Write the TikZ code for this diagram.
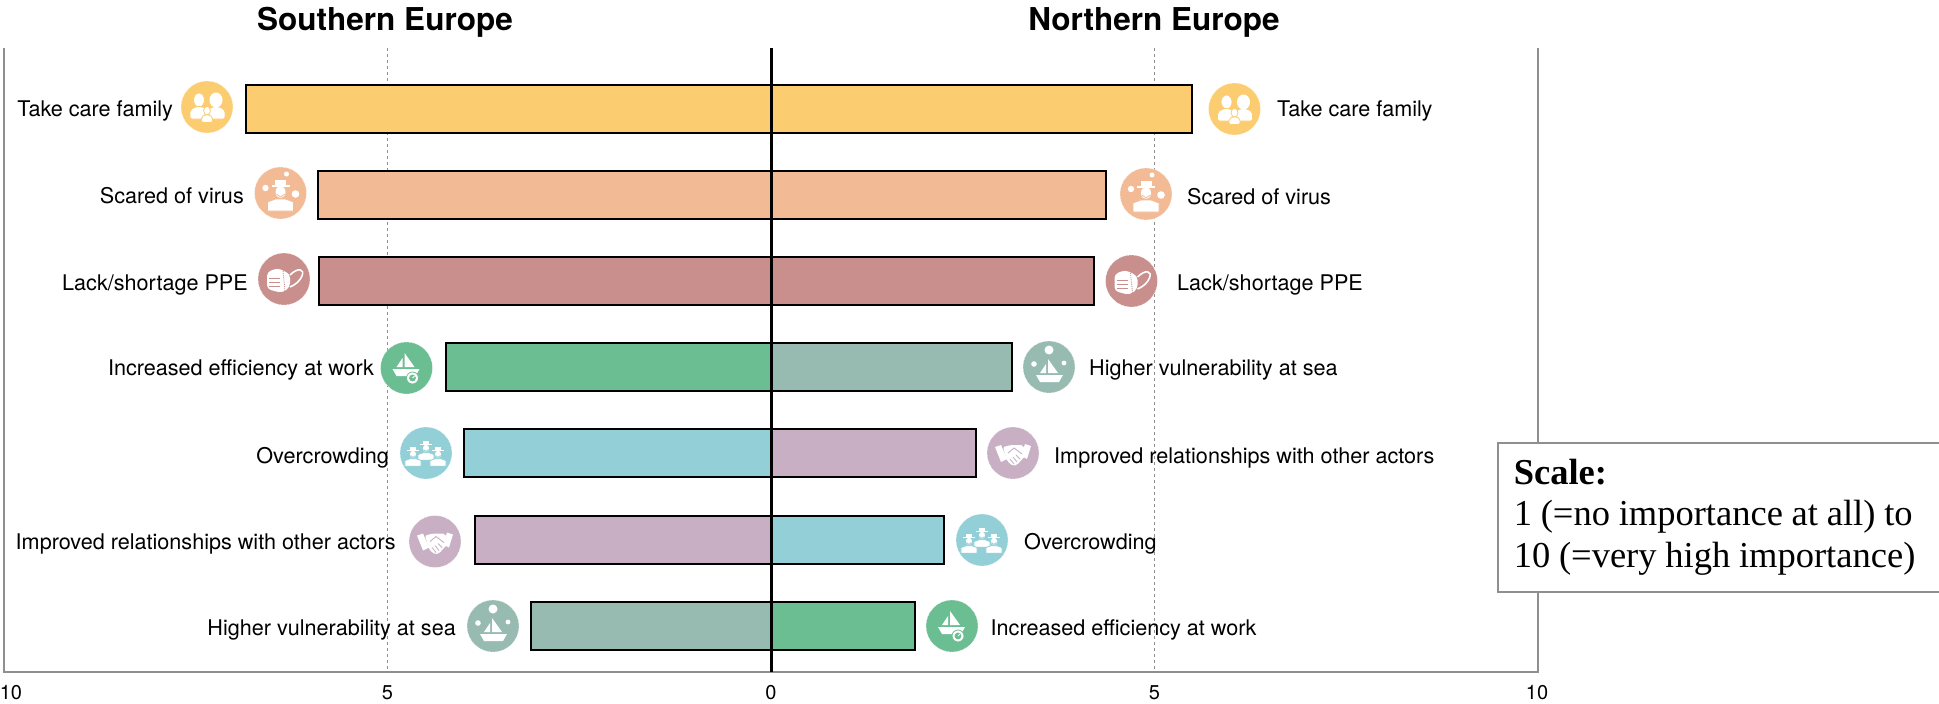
\documentclass[tikz,border=0pt]{standalone}
\usepackage{fontspec}
\setmainfont{TeX Gyre Heros}
\newfontfamily\boxserif{Liberation Serif}
\usetikzlibrary{positioning}

\definecolor{colFamily}{HTML}{FBCD70}
\definecolor{colVirus}{HTML}{F2BB96}
\definecolor{colPPE}{HTML}{C88F8D}
\definecolor{colWork}{HTML}{6BBE92}
\definecolor{colCrowd}{HTML}{93CFD7}
\definecolor{colActors}{HTML}{C8AFC3}
\definecolor{colSea}{HTML}{98BBB1}
\definecolor{colFrame}{HTML}{8F8F8F}

\tikzstyle{regiontitle} = [inner sep=0pt, font=\fontsize{31.5}{34}\selectfont\bfseries]
\tikzstyle{rowlabel} = [inner sep=0pt, font=\fontsize{21.6}{26}\selectfont]
\tikzstyle{ticklabel} = [inner sep=0pt, font=\fontsize{20}{22}\selectfont]
\tikzstyle{scorebar} = [draw=black, line width=2pt, minimum height=48pt, inner sep=0pt, outer sep=0pt]
\tikzstyle{iconcircle} = [circle, minimum size=52pt, inner sep=0pt, draw=white, line width=.5pt, densely dotted]
\tikzstyle{gridline} = [colFrame, line width=1pt, dashed]
\tikzstyle{scalebox} = [draw=colFrame, line width=1.5pt, fill=white, anchor=north west, align=left, text width=424pt, minimum height=149pt, inner xsep=16pt, inner ysep=0pt, font=\fontsize{36.5}{41.5}\selectfont\boxserif]

\tikzset{
	pics/person/.style={code={
		\fill[white,draw=#1,line width=.8pt] (0,-7) ellipse (5.5 and 7);
		\fill[white,draw=#1,line width=.8pt,rounded corners=2pt] (-9,12) -- (-9,3) -- (-3,-.5) -- (3,-.5) -- (9,3) -- (9,12) -- cycle;
	}},
	pics/family/.style={code={
		\pic at (-8,0) {person=colFamily};
		\pic at (9,0) {person=colFamily};
		\fill[white] (9,-7) ellipse (6.5 and 7.5);
		\pic[scale=.62] at (0,8) {person=colFamily};
	}},
	pics/worker/.style={code={
		\fill[white,draw=#1,line width=.8pt] (-13,18) -- (-13,9) -- (-5,6) -- (5,6) -- (13,9) -- (13,18) -- cycle;
		\fill[white] (0,-1) ellipse (5 and 6);
		\draw[#1,line width=.8pt] (-4,1) -- (0,4) -- (4,1);
		\fill[white] (-9,-8.5) rectangle (9,-6);
		\fill[white] (-5.5,-8.5) rectangle (5.5,-13);
	}},
	pics/virusworker/.style={code={
		\pic at (0,0) {worker=colVirus};
		\fill[white] (-15,-5) circle (3.2);
		\fill[white] (6,-19) circle (2.5);
		\fill[white] (15,1) circle (3.8);
	}},
	pics/crowd/.style={code={
		\pic[scale=.62] at (0,-4) {worker=colCrowd};
		\pic[scale=.62] at (-13,2) {worker=colCrowd};
		\pic[scale=.62] at (12,2) {worker=colCrowd};
	}},
	pics/mask/.style={code={
		\draw[white,line width=1.6pt] (6,-4) .. controls (14,-12) and (21,-10) .. (18,-3) .. controls (16,2) and (11,6) .. (6,8);
		\fill[white,rounded corners=4pt] (-17,-7) -- (-6,-11) -- (6,-5) -- (6,8) -- (-2,14) -- (-17,10) -- cycle;
		\draw[colPPE,line width=.9pt] (-15,-1) -- (-4,-1) (-15,3) -- (-4,3) (-15,7) -- (-4,7);
		\draw[colPPE,line width=.9pt,densely dotted] (-1,-8) -- (1,12);
	}},
	pics/boat/.style={code={
		\fill[white] (-13,1) -- (14,1) -- (10,8) -- (-9,8) -- cycle;
		\fill[white] (-1,-15) -- (9,-1) -- (-1,-1) -- cycle;
		\fill[white] (-3,-10) -- (-3,-1) -- (-9,-1) -- cycle;
	}},
	pics/workboat/.style={code={
		\pic at (-1,0) {boat};
		\fill[white,draw=colWork,line width=.8pt] (6,10) circle (6);
		\fill[colWork] (6,10) circle (3.4);
		\draw[white,line width=.9pt] (6,10) -- (8,8);
	}},
	pics/seaboat/.style={code={
		\pic at (0,7) {boat};
		\fill[white] (0,-17) circle (4.5);
		\fill[white] (-15,-3) circle (2.8);
		\fill[white] (15,-4) circle (2.4);
	}},
	pics/handshake/.style={code={
		\fill[white] (-18,-6) -- (-12,-8) -- (-6,6) -- (-12,9) -- cycle;
		\fill[white] (12,-9) -- (18,-7) -- (14,6) -- (8,3) -- cycle;
		\fill[white,rounded corners=2pt] (-10,-6) -- (-2,-8) -- (10,-8) -- (13,2) -- (4,12) -- (0,13) -- (-6,8) -- cycle;
		\draw[colActors,line width=.9pt] (9,1) -- (1,-5) -- (-5,0);
		\draw[colActors,line width=.8pt] (1,11) -- (-3,6) (4,9) -- (0,4) (7,6) -- (3,2);
	}},
}

\begin{document}
\begin{tikzpicture}[x=1pt, y=-1pt]
	\useasboundingbox (0,0) rectangle (1939,704);

	\node[regiontitle, anchor=base] (titleS) at (385,30) {Southern Europe};
	\node[regiontitle, anchor=base] (titleN) at (1154,30) {Northern Europe};

	% axes
	\draw[gridline] (387.5,48) -- (387.5,672);
	\draw[gridline] (1154.5,48) -- (1154.5,672);
	\draw[colFrame, line width=1.5pt] (4,48) -- (4,672) -- (1538,672) -- (1538,48);

	% left bars
	\node[scorebar, fill=colFamily, anchor=east, minimum width=525pt] (barFamS) at (771,109) {};
	\node[scorebar, fill=colVirus, anchor=east, minimum width=453pt] (barVirS) at (771,195) {};
	\node[scorebar, fill=colPPE, anchor=east, minimum width=452pt] (barPpeS) at (771,281) {};
	\node[scorebar, fill=colWork, anchor=east, minimum width=325pt] (barWorkS) at (771,367) {};
	\node[scorebar, fill=colCrowd, anchor=east, minimum width=307pt] (barCrowdS) at (771,453) {};
	\node[scorebar, fill=colActors, anchor=east, minimum width=296pt] (barActS) at (771,540) {};
	\node[scorebar, fill=colSea, anchor=east, minimum width=240pt] (barSeaS) at (771,626) {};

	% right bars
	\node[scorebar, fill=colFamily, anchor=west, minimum width=421pt] (barFamN) at (771,109) {};
	\node[scorebar, fill=colVirus, anchor=west, minimum width=335pt] (barVirN) at (771,195) {};
	\node[scorebar, fill=colPPE, anchor=west, minimum width=323pt] (barPpeN) at (771,281) {};
	\node[scorebar, fill=colSea, anchor=west, minimum width=241pt] (barSeaN) at (771,367) {};
	\node[scorebar, fill=colActors, anchor=west, minimum width=205pt] (barActN) at (771,453) {};
	\node[scorebar, fill=colCrowd, anchor=west, minimum width=173pt] (barCrowdN) at (771,540) {};
	\node[scorebar, fill=colWork, anchor=west, minimum width=144pt] (barWorkN) at (771,626) {};

	\draw[black, line width=3pt] (771.5,48) -- (771.5,672);

	% left icons
	\node[iconcircle, fill=colFamily] (icoFamS) at (207,107) {};
	\node[iconcircle, fill=colVirus] (icoVirS) at (280.5,193) {};
	\node[iconcircle, fill=colPPE] (icoPpeS) at (284,279) {};
	\node[iconcircle, fill=colWork] (icoWorkS) at (406.5,368) {};
	\node[iconcircle, fill=colCrowd] (icoCrowdS) at (426,453) {};
	\node[iconcircle, fill=colActors] (icoActS) at (435,541.5) {};
	\node[iconcircle, fill=colSea] (icoSeaS) at (493,626) {};
	\pic at (icoFamS) {family};
	\pic at (icoVirS) {virusworker};
	\pic at (icoPpeS) {mask};
	\pic at (icoWorkS) {workboat};
	\pic at (icoCrowdS) {crowd};
	\pic at (icoActS) {handshake};
	\pic at (icoSeaS) {seaboat};

	% right icons
	\node[iconcircle, fill=colFamily] (icoFamN) at (1234.5,109) {};
	\node[iconcircle, fill=colVirus] (icoVirN) at (1146,194) {};
	\node[iconcircle, fill=colPPE] (icoPpeN) at (1131.5,281) {};
	\node[iconcircle, fill=colSea] (icoSeaN) at (1049,367) {};
	\node[iconcircle, fill=colActors] (icoActN) at (1013,453) {};
	\node[iconcircle, fill=colCrowd] (icoCrowdN) at (982,540) {};
	\node[iconcircle, fill=colWork] (icoWorkN) at (952,626) {};
	\pic at (icoFamN) {family};
	\pic at (icoVirN) {virusworker};
	\pic at (icoPpeN) {mask};
	\pic at (icoSeaN) {seaboat};
	\pic at (icoActN) {handshake};
	\pic at (icoCrowdN) {crowd};
	\pic at (icoWorkN) {workboat};

	% left labels
	\node[rowlabel, anchor=base east] (lblFamS) at (173,116) {Take care family};
	\node[rowlabel, anchor=base east] (lblVirS) at (244,203) {Scared of virus};
	\node[rowlabel, anchor=base east] (lblPpeS) at (248,290) {Lack/shortage PPE};
	\node[rowlabel, anchor=base east] (lblWorkS) at (374,375) {Increased efficiency at work};
	\node[rowlabel, anchor=base east] (lblCrowdS) at (389,463) {Overcrowding};
	\node[rowlabel, anchor=base east] (lblActS) at (396,549) {Improved relationships with other actors};
	\node[rowlabel, anchor=base east] (lblSeaS) at (456,635) {Higher vulnerability at sea};

	% right labels
	\node[rowlabel, anchor=base west] (lblFamN) at (1277,116) {Take care family};
	\node[rowlabel, anchor=base west] (lblVirN) at (1187,204) {Scared of virus};
	\node[rowlabel, anchor=base west] (lblPpeN) at (1177,290) {Lack/shortage PPE};
	\node[rowlabel, anchor=base west] (lblSeaN) at (1089,375) {Higher vulnerability at sea};
	\node[rowlabel, anchor=base west] (lblActN) at (1054,463) {Improved relationships with other actors};
	\node[rowlabel, anchor=base west] (lblCrowdN) at (1024,549) {Overcrowding};
	\node[rowlabel, anchor=base west] (lblWorkN) at (990.5,635) {Increased efficiency at work};

	% ticks
	\node[ticklabel, anchor=base] (tickA) at (11,699) {10};
	\node[ticklabel, anchor=base] (tickB) at (387.5,699) {5};
	\node[ticklabel, anchor=base] (tickC) at (771,699) {0};
	\node[ticklabel, anchor=base] (tickD) at (1154.5,699) {5};
	\node[ticklabel, anchor=base] (tickE) at (1537,699) {10};

	\node[scalebox] (scaleNote) at (1497,442) {\spaceskip=.24em\relax\textbf{Scale:}\\1 (=no importance at all) to\\10 (=very high importance)};
\end{tikzpicture}
\end{document}
